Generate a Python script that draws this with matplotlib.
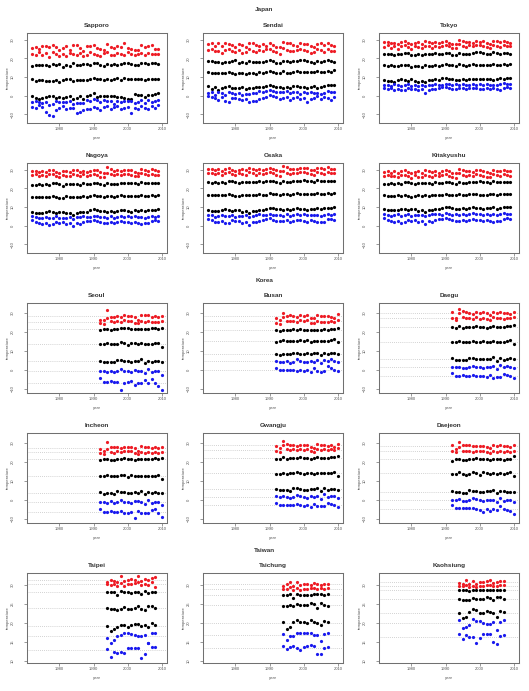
import numpy as np
import matplotlib.pyplot as plt

plt.rcParams['font.family'] = ['Liberation Sans', 'DejaVu Sans']

# years
japan_years = list(range(1972, 2010))
korea_years = list(range(1992, 2011))
taipei_years = list(range(1994, 2009))
taichung_years = list(range(1994, 2008))
kaohsiung_years = list(range(1994, 2008))

# ---- Japan ----
sapporo_r1 = [25.5, 26.2, 24.8, 26.5, 26.9, 26.3, 27.0, 26.0, 24.3, 25.8, 26.6, 24.5, 27.3, 27.2, 25.6, 24.0, 26.5, 26.8, 27.0, 25.8, 24.9, 24.5, 27.8, 25.9, 25.3, 26.4, 26.0, 28.0, 25.6, 25.1, 24.5, 24.7, 27.3, 26.2, 26.4, 27.0, 25.2, 24.9]
sapporo_r2 = [22.5, 22.0, 23.5, 21.8, 22.7, 21.0, 23.4, 22.1, 21.5, 22.3, 21.2, 23.0, 22.4, 21.7, 22.9, 21.3, 22.0, 23.3, 22.6, 21.8, 21.4, 22.7, 23.4, 22.0, 21.6, 23.0, 22.5, 21.9, 23.2, 22.4, 21.7, 22.3, 22.8, 21.9, 23.0, 22.5, 22.6, 22.1]
sapporo_k1 = [16.0, 16.5, 16.7, 16.3, 16.6, 16.1, 17.1, 16.4, 16.9, 15.5, 16.7, 15.8, 17.4, 16.5, 16.4, 16.9, 17.1, 16.2, 17.6, 17.5, 16.3, 15.9, 16.8, 16.5, 17.0, 16.3, 17.2, 17.4, 17.3, 16.8, 16.5, 16.6, 17.4, 17.3, 17.0, 17.6, 17.3, 17.0]
sapporo_k2 = [9.2, 8.0, 8.2, 8.3, 8.0, 7.9, 7.9, 8.5, 7.3, 8.4, 8.7, 8.8, 8.1, 8.6, 8.2, 8.5, 8.4, 8.9, 9.3, 9.0, 8.7, 8.5, 9.0, 8.2, 8.7, 9.6, 8.4, 9.3, 9.1, 8.9, 9.1, 9.2, 9.1, 8.5, 8.7, 8.9, 9.1, 9.2]
sapporo_k3 = [0.0, -1.0, -1.7, -1.3, -0.9, -0.4, -0.3, -1.1, -0.7, -1.4, -0.5, -0.3, -1.6, -1.2, -0.4, -1.5, -0.2, 0.6, 1.5, -0.5, -0.2, 0.0, -0.4, 0.0, -0.3, -0.8, -0.9, -1.3, -1.5, -1.7, 0.8, 0.3, 0.4, -0.6, 0.2, 0.5, 1.0, 1.2]
sapporo_b1 = [-3.5, -2.8, -3.6, -4.0, -3.3, -5.0, -4.2, -2.9, -3.5, -3.2, -3.6, -2.7, -4.4, -3.8, -4.1, -3.9, -2.3, -2.6, -2.0, -2.2, -3.1, -2.5, -2.7, -3.0, -4.4, -2.6, -3.6, -2.6, -3.0, -2.9, -4.0, -3.2, -2.5, -3.7, -2.5, -3.4, -2.8, -2.2]
sapporo_b2 = [-5.8, -6.5, -5.0, -6.2, -8.5, -10.2, -10.8, -7.5, -6.4, -5.7, -7.2, -6.8, -6.3, -9.0, -8.8, -7.5, -7.3, -6.9, -5.9, -6.6, -7.4, -6.0, -5.5, -7.1, -6.2, -5.3, -7.0, -6.4, -6.2, -9.2, -6.8, -7.3, -5.6, -6.4, -7.1, -5.4, -6.3, -5.1]

sendai_r1 = [27.8, 28.2, 26.9, 28.0, 26.5, 28.3, 27.9, 27.2, 26.0, 27.5, 27.0, 26.3, 28.1, 28.0, 27.0, 26.6, 27.6, 26.8, 28.2, 27.4, 26.1, 25.9, 28.6, 28.4, 28.1, 27.3, 26.9, 28.0, 27.8, 27.5, 26.8, 26.2, 27.9, 28.0, 27.1, 28.2, 27.0, 26.8]
sendai_r2 = [24.5, 25.0, 23.8, 24.2, 23.0, 24.6, 25.2, 24.0, 23.3, 24.4, 22.9, 23.6, 24.8, 24.1, 23.5, 24.3, 23.7, 24.9, 25.0, 24.0, 23.2, 22.5, 25.5, 24.6, 24.2, 23.9, 24.5, 25.1, 24.7, 23.8, 23.1, 23.6, 24.9, 24.3, 23.5, 24.8, 24.0, 23.7]
sendai_k1 = [18.6, 18.4, 17.9, 18.1, 17.6, 18.0, 18.3, 18.8, 19.0, 17.5, 18.2, 17.4, 18.5, 18.3, 18.1, 18.2, 18.0, 18.4, 19.1, 18.6, 17.8, 17.6, 18.7, 18.5, 18.2, 18.4, 18.8, 19.0, 19.3, 18.5, 18.1, 17.5, 18.6, 18.3, 18.4, 18.9, 18.5, 18.3]
sendai_k2 = [12.9, 12.3, 12.2, 12.4, 12.0, 12.3, 12.5, 12.1, 11.8, 12.4, 12.2, 11.6, 12.3, 12.1, 11.9, 12.6, 12.3, 12.5, 13.0, 12.8, 12.3, 12.1, 13.1, 12.4, 12.0, 12.9, 13.2, 12.9, 12.7, 12.6, 12.8, 12.5, 13.1, 12.7, 12.9, 13.2, 12.8, 13.6]
sendai_k3 = [5.0, 3.8, 4.5, 3.2, 4.0, 4.6, 5.1, 4.2, 3.9, 4.4, 4.7, 3.5, 3.9, 4.1, 4.8, 4.9, 4.7, 5.3, 5.8, 5.4, 4.9, 4.6, 4.4, 4.8, 4.2, 5.0, 5.1, 4.9, 4.5, 4.3, 4.8, 5.2, 4.0, 4.6, 5.3, 5.6, 5.6, 5.7]
sendai_b1 = [1.5, 1.8, 0.5, 1.9, 1.2, 0.6, 1.8, 1.6, 0.9, 1.3, 0.4, 1.1, 0.7, 1.2, 1.5, 2.4, 2.1, 2.3, 2.9, 2.5, 1.9, 2.1, 1.8, 2.6, 1.6, 1.8, 2.2, 1.0, 1.9, 1.4, 2.0, 1.5, 1.4, 1.0, 1.2, 2.3, 1.9, 2.2]
sendai_b2 = [-0.3, -0.8, -1.2, -2.5, -0.5, -3.0, -3.2, -1.0, -1.4, -2.0, -2.1, -1.5, -3.5, -3.0, -2.8, -1.7, -1.2, -0.5, 0.3, -0.4, -0.9, -1.6, -1.3, -0.8, -2.2, -1.0, -0.6, -1.9, -1.4, -3.3, -1.6, -1.2, -0.3, -2.0, -0.6, -1.4, -2.1, -0.5]

tokyo_r1 = [28.7, 28.9, 28.1, 28.5, 27.9, 28.8, 29.2, 28.0, 27.5, 28.4, 28.6, 27.9, 29.1, 28.8, 28.2, 28.6, 28.0, 28.9, 29.3, 28.5, 27.8, 27.6, 29.6, 29.4, 28.8, 28.9, 28.3, 29.4, 29.0, 29.2, 28.4, 27.8, 29.5, 29.2, 28.7, 29.4, 28.8, 28.5]
tokyo_r2 = [26.3, 27.0, 25.8, 26.6, 25.2, 26.9, 27.1, 26.2, 25.1, 26.5, 25.9, 25.6, 26.8, 26.4, 25.7, 26.9, 25.9, 26.7, 27.3, 26.4, 25.8, 25.4, 27.5, 26.8, 26.3, 27.0, 26.6, 27.2, 27.1, 26.5, 25.9, 25.6, 27.4, 26.9, 26.2, 27.1, 26.7, 26.8]
tokyo_k1 = [22.3, 22.2, 22.4, 22.0, 22.6, 22.5, 22.9, 23.1, 22.0, 21.8, 22.3, 21.9, 22.6, 22.4, 22.3, 22.7, 22.1, 22.5, 23.0, 22.8, 22.0, 21.8, 22.9, 22.6, 22.3, 22.5, 22.8, 23.2, 23.4, 22.7, 22.5, 22.2, 23.5, 22.9, 22.6, 23.0, 22.8, 22.6]
tokyo_k2 = [16.3, 16.0, 16.2, 15.9, 16.1, 16.6, 16.5, 16.2, 15.5, 15.8, 16.0, 15.6, 16.2, 16.0, 15.9, 16.4, 16.1, 16.3, 16.9, 16.5, 16.2, 16.0, 16.8, 16.4, 16.1, 16.6, 16.9, 16.7, 16.5, 16.3, 16.4, 16.6, 16.8, 16.2, 16.5, 17.0, 16.4, 16.8]
tokyo_k3 = [8.6, 8.0, 7.8, 7.5, 8.4, 8.9, 8.3, 7.9, 8.7, 8.1, 7.6, 7.9, 7.4, 8.2, 8.5, 8.8, 8.6, 9.3, 9.6, 9.0, 8.7, 8.5, 8.4, 8.8, 8.5, 9.0, 9.1, 8.9, 8.8, 8.7, 9.2, 8.9, 8.6, 8.8, 9.3, 9.1, 9.6, 9.4]
tokyo_b1 = [6.0, 5.6, 5.2, 6.1, 5.9, 5.3, 5.7, 6.3, 5.1, 5.8, 5.4, 5.6, 5.0, 5.8, 5.6, 6.2, 6.0, 5.9, 6.5, 6.2, 5.9, 6.1, 5.8, 6.4, 5.6, 6.0, 6.3, 5.9, 6.2, 5.7, 6.4, 6.0, 5.9, 5.7, 6.3, 6.6, 6.1, 6.4]
tokyo_b2 = [4.1, 3.6, 3.9, 3.2, 3.5, 3.0, 3.3, 4.0, 3.6, 3.8, 2.9, 3.4, 1.6, 3.1, 3.5, 3.7, 3.9, 4.5, 4.6, 4.2, 3.8, 3.6, 3.9, 4.3, 3.4, 4.0, 4.2, 4.1, 3.7, 3.5, 4.1, 3.8, 4.0, 3.6, 3.1, 4.4, 4.6, 4.3]

nagoya_r1 = [29.3, 29.5, 28.8, 29.4, 28.6, 29.6, 29.8, 28.9, 28.2, 29.2, 29.4, 28.7, 29.9, 29.7, 29.0, 29.3, 28.7, 29.5, 30.1, 29.6, 28.6, 28.3, 31.2, 30.6, 29.4, 29.7, 29.2, 30.0, 29.8, 29.9, 29.0, 28.5, 30.2, 29.8, 29.3, 30.4, 29.7, 29.4]
nagoya_r2 = [27.2, 27.6, 26.8, 27.3, 26.5, 27.5, 27.7, 26.9, 26.2, 27.4, 26.7, 26.4, 27.8, 27.1, 26.6, 27.5, 26.9, 27.4, 27.9, 27.2, 26.3, 26.1, 28.4, 27.6, 27.0, 27.5, 27.3, 27.9, 27.7, 27.1, 26.7, 26.5, 28.0, 27.6, 27.0, 27.9, 27.4, 27.2]
nagoya_k1 = [21.8, 21.7, 22.1, 21.9, 22.4, 21.7, 22.8, 22.7, 22.5, 21.4, 22.2, 22.1, 22.3, 22.2, 22.0, 22.8, 22.3, 22.4, 23.0, 22.9, 22.3, 21.7, 22.9, 22.4, 22.3, 22.6, 22.8, 22.9, 23.1, 22.7, 22.7, 22.4, 23.6, 23.1, 22.8, 23.0, 22.9, 22.8]
nagoya_k2 = [15.6, 15.3, 15.4, 15.3, 15.5, 15.2, 15.8, 15.4, 14.9, 15.1, 15.8, 15.5, 15.6, 15.4, 15.6, 15.8, 15.5, 15.7, 16.2, 15.9, 15.7, 15.4, 16.1, 15.8, 15.6, 16.0, 16.4, 16.0, 15.9, 15.8, 15.9, 16.0, 16.2, 15.9, 16.0, 16.4, 16.1, 16.3]
nagoya_k3 = [7.6, 6.8, 6.9, 7.0, 7.2, 7.9, 7.3, 6.8, 7.5, 7.4, 6.6, 7.0, 5.9, 6.9, 7.1, 7.6, 7.5, 8.3, 8.9, 8.5, 8.0, 7.7, 7.5, 8.0, 7.6, 8.1, 8.5, 8.2, 7.9, 7.5, 8.2, 8.0, 8.6, 7.8, 8.3, 8.4, 8.6, 8.8]
nagoya_b1 = [5.2, 4.7, 4.0, 4.4, 4.8, 4.1, 4.3, 5.1, 3.9, 4.4, 4.2, 4.6, 3.8, 4.5, 4.9, 5.2, 4.8, 4.7, 5.3, 5.0, 4.6, 4.8, 4.4, 5.1, 4.3, 4.7, 5.2, 4.9, 5.1, 4.5, 5.0, 4.6, 4.7, 4.4, 4.8, 5.4, 4.9, 5.1]
nagoya_b2 = [3.0, 2.2, 1.3, 1.0, 1.6, 0.5, 0.8, 2.2, 1.5, 2.0, 0.9, 1.2, -0.3, 1.4, 1.0, 1.8, 2.3, 2.8, 3.2, 2.5, 1.9, 1.6, 1.5, 2.1, 1.2, 2.0, 2.4, 2.2, 1.8, 1.3, 2.1, 1.7, 1.1, 1.4, 1.2, 2.6, 2.9, 2.3]

osaka_r1 = [30.2, 30.5, 29.8, 30.3, 29.5, 30.4, 30.8, 29.9, 29.2, 30.1, 30.3, 29.6, 30.8, 30.6, 30.0, 30.3, 29.7, 30.4, 31.0, 30.5, 29.6, 29.3, 31.8, 31.2, 30.4, 30.6, 30.2, 30.9, 30.8, 30.7, 30.0, 29.6, 31.1, 30.7, 30.3, 31.2, 30.6, 30.3]
osaka_r2 = [28.0, 28.4, 27.6, 28.1, 27.3, 28.3, 28.6, 27.8, 27.0, 28.2, 27.5, 27.2, 28.6, 28.0, 27.4, 28.3, 27.7, 28.2, 28.8, 28.0, 27.1, 26.9, 29.2, 28.5, 27.9, 28.4, 28.1, 28.7, 28.6, 28.0, 27.5, 27.3, 28.8, 28.4, 27.8, 28.7, 28.2, 28.0]
osaka_k1 = [23.2, 23.0, 23.4, 23.1, 23.6, 23.0, 24.0, 23.8, 23.6, 22.8, 23.4, 23.3, 23.5, 23.4, 23.2, 23.9, 23.5, 23.7, 24.2, 24.0, 23.5, 23.0, 24.1, 23.6, 23.5, 23.8, 24.0, 24.1, 24.3, 23.9, 23.9, 23.6, 24.6, 24.2, 24.0, 24.2, 24.1, 24.0]
osaka_k2 = [16.6, 16.3, 16.4, 16.2, 16.5, 16.3, 16.8, 16.4, 15.9, 16.1, 16.7, 16.4, 16.5, 16.3, 16.5, 16.8, 16.5, 16.7, 17.3, 17.0, 16.8, 16.5, 17.2, 16.9, 16.7, 17.1, 17.5, 17.1, 17.0, 16.9, 17.0, 17.1, 17.3, 17.0, 17.1, 17.5, 17.2, 17.4]
osaka_k3 = [8.5, 7.8, 7.9, 8.0, 8.2, 8.8, 8.3, 7.8, 8.4, 8.3, 7.6, 8.0, 6.9, 7.9, 8.1, 8.6, 8.5, 9.2, 9.7, 9.4, 9.0, 8.7, 8.5, 9.0, 8.6, 9.1, 9.5, 9.2, 8.9, 8.5, 9.2, 9.0, 9.6, 8.8, 9.3, 9.4, 9.6, 9.8]
osaka_b1 = [6.0, 5.5, 4.9, 5.3, 5.7, 5.0, 5.2, 6.0, 4.8, 5.3, 5.1, 5.5, 4.6, 5.4, 5.8, 6.1, 5.7, 5.6, 6.3, 6.0, 5.6, 5.8, 5.4, 6.1, 5.3, 5.7, 6.2, 5.9, 6.1, 5.5, 6.0, 5.6, 5.7, 5.4, 5.8, 6.4, 5.9, 6.1]
osaka_b2 = [3.6, 2.9, 2.1, 1.8, 2.4, 1.3, 1.6, 3.0, 2.3, 2.8, 1.7, 2.0, 0.6, 2.2, 1.8, 2.6, 3.1, 3.5, 3.9, 3.2, 2.7, 2.4, 2.3, 2.9, 2.0, 2.8, 3.2, 3.0, 2.6, 2.1, 2.9, 2.5, 1.9, 2.2, 2.0, 3.4, 3.7, 3.1]

kitakyushu_r1 = [29.0, 29.3, 28.5, 29.1, 28.3, 29.2, 29.6, 28.7, 28.0, 28.9, 29.1, 28.4, 29.6, 29.4, 28.8, 29.1, 28.5, 29.2, 29.8, 29.3, 28.4, 28.1, 30.6, 30.0, 29.2, 29.4, 29.0, 29.7, 29.6, 29.5, 28.8, 28.4, 29.9, 29.5, 29.1, 30.0, 29.4, 29.1]
kitakyushu_r2 = [26.8, 27.2, 26.4, 26.9, 26.1, 27.1, 27.4, 26.6, 25.8, 27.0, 26.3, 26.0, 27.4, 26.8, 26.2, 27.1, 26.5, 27.0, 27.6, 26.8, 25.9, 25.7, 28.0, 27.3, 26.7, 27.2, 26.9, 27.5, 27.4, 26.8, 26.3, 26.1, 27.6, 27.2, 26.6, 27.5, 27.0, 26.8]
kitakyushu_k1 = [22.6, 22.4, 22.8, 22.5, 23.0, 22.4, 23.4, 23.2, 23.0, 22.2, 22.8, 22.7, 22.9, 22.8, 22.6, 23.3, 22.9, 23.1, 23.6, 23.4, 22.9, 22.4, 23.5, 23.0, 22.9, 23.2, 23.4, 23.5, 23.7, 23.3, 23.3, 23.0, 24.0, 23.6, 23.4, 23.6, 23.5, 23.4]
kitakyushu_k2 = [16.3, 16.0, 16.1, 15.9, 16.2, 16.0, 16.5, 16.1, 15.6, 15.8, 16.4, 16.1, 16.2, 16.0, 16.2, 16.5, 16.2, 16.4, 17.0, 16.7, 16.5, 16.2, 16.9, 16.6, 16.4, 16.8, 17.2, 16.8, 16.7, 16.6, 16.7, 16.8, 17.0, 16.7, 16.8, 17.2, 16.9, 17.1]
kitakyushu_k3 = [8.9, 8.2, 8.3, 8.4, 8.6, 9.2, 8.7, 8.2, 8.8, 8.7, 8.0, 8.4, 7.3, 8.3, 8.5, 9.0, 8.9, 9.6, 10.1, 9.8, 9.4, 9.1, 8.9, 9.4, 9.0, 9.5, 9.9, 9.6, 9.3, 8.9, 9.6, 9.4, 10.0, 9.2, 9.7, 9.8, 10.0, 10.2]
kitakyushu_b1 = [6.4, 5.9, 5.3, 5.7, 6.1, 5.4, 5.6, 6.4, 5.2, 5.7, 5.5, 5.9, 5.0, 5.8, 6.2, 6.5, 6.1, 6.0, 6.7, 6.4, 6.0, 6.2, 5.8, 6.5, 5.7, 6.1, 6.6, 6.3, 6.5, 5.9, 6.4, 6.0, 6.1, 5.8, 6.2, 6.8, 6.3, 6.5]
kitakyushu_b2 = [3.9, 3.2, 2.4, 2.1, 2.7, 1.6, 1.9, 3.3, 2.6, 3.1, 2.0, 2.3, 0.9, 2.5, 2.1, 2.9, 3.4, 3.8, 4.2, 3.5, 3.0, 2.7, 2.6, 3.2, 2.3, 3.1, 3.5, 3.3, 2.9, 2.4, 3.2, 2.8, 2.2, 2.5, 2.3, 3.7, 4.0, 3.4]

# ---- Korea ----
seoul_r1 = [26.3, 26.0, 31.4, 27.5, 27.9, 28.4, 27.6, 28.5, 28.2, 28.3, 27.4, 25.9, 28.8, 28.6, 28.5, 27.8, 28.0, 27.6, 28.3]
seoul_r2 = [24.6, 24.2, 27.1, 25.3, 24.8, 25.6, 25.1, 25.9, 25.6, 25.7, 24.6, 24.4, 25.4, 25.0, 25.3, 24.9, 25.1, 24.9, 25.5]
seoul_k1 = [21.0, 21.4, 21.3, 21.0, 21.2, 21.6, 21.7, 21.9, 21.8, 21.5, 21.2, 21.3, 21.6, 21.5, 21.4, 21.7, 21.9, 21.4, 22.1]
seoul_k2 = [13.5, 13.4, 14.2, 13.7, 13.6, 13.7, 14.3, 14.0, 13.2, 14.2, 13.9, 13.6, 13.8, 13.5, 13.7, 13.4, 13.8, 14.1, 12.0]
seoul_k3 = [4.7, 3.9, 4.2, 4.0, 3.9, 5.2, 5.0, 4.8, 4.4, 4.2, 4.5, 4.4, 5.5, 3.7, 4.7, 4.3, 4.5, 4.4, 4.1]
seoul_b1 = [-0.7, -0.5, -1.0, -0.4, -1.3, -0.9, 0.2, -0.5, -0.7, -1.3, -0.2, -0.4, -0.5, -1.5, 0.5, -1.3, -0.7, -0.6, -2.6]
seoul_b2 = [-4.5, -6.2, -6.4, -6.0, -6.2, -6.3, -10.7, -6.9, -6.6, -5.7, -7.8, -7.0, -7.2, -5.3, -6.8, -4.9, -7.0, -8.3, -10.4]

busan_r1 = [27.2, 26.2, 29.6, 28.4, 28.5, 28.0, 27.9, 28.7, 28.1, 28.6, 27.0, 26.9, 28.9, 28.2, 28.4, 28.0, 27.8, 27.3, 29.1]
busan_r2 = [24.5, 24.0, 27.4, 25.3, 25.4, 25.6, 25.2, 26.1, 25.8, 25.9, 24.6, 24.3, 25.5, 25.1, 25.2, 24.9, 25.3, 24.8, 26.0]
busan_k1 = [20.8, 20.5, 21.0, 20.8, 21.0, 21.2, 21.1, 21.4, 21.0, 21.0, 20.8, 20.9, 21.1, 21.0, 21.2, 21.1, 21.6, 21.3, 21.7]
busan_k2 = [14.8, 14.9, 15.5, 15.1, 15.2, 15.0, 15.3, 15.8, 15.1, 15.4, 14.6, 15.2, 15.3, 15.0, 15.1, 15.0, 15.4, 16.2, 14.3]
busan_k3 = [8.4, 7.9, 8.3, 8.2, 8.1, 8.8, 8.7, 8.5, 8.2, 8.6, 8.1, 8.9, 9.0, 7.8, 8.8, 8.4, 8.6, 8.7, 8.3]
busan_b1 = [4.6, 4.2, 4.1, 4.4, 3.6, 4.3, 5.4, 4.6, 4.2, 4.1, 4.5, 4.3, 5.1, 3.5, 5.2, 4.4, 5.4, 4.7, 3.9]
busan_b2 = [1.0, -0.2, -0.1, 0.0, -0.3, -0.2, -0.4, 0.1, -0.7, -0.2, -1.2, 0.8, -0.8, -1.3, -0.9, 2.0, 0.7, -0.3, -0.8]

daegu_r1 = [30.2, 27.2, 32.0, 30.8, 30.3, 30.0, 29.4, 30.1, 29.7, 30.2, 29.5, 28.6, 30.4, 30.0, 30.5, 29.8, 29.9, 29.1, 30.1]
daegu_r2 = [27.0, 26.0, 29.5, 27.6, 27.3, 27.1, 26.7, 27.4, 26.8, 27.3, 26.4, 26.2, 27.6, 26.9, 27.2, 26.7, 27.3, 27.0, 27.8]
daegu_k1 = [22.2, 21.8, 22.9, 22.0, 22.3, 22.6, 22.5, 22.7, 22.4, 22.6, 22.0, 22.3, 22.8, 22.6, 22.5, 22.4, 22.9, 23.0, 23.7]
daegu_k2 = [14.4, 14.5, 14.9, 14.4, 14.6, 14.7, 15.2, 14.8, 14.3, 14.9, 14.6, 14.3, 15.0, 14.7, 14.8, 14.6, 14.9, 15.4, 13.4]
daegu_k3 = [5.9, 5.0, 5.2, 5.3, 5.0, 6.2, 6.1, 5.8, 5.5, 5.6, 5.7, 5.6, 6.6, 4.7, 6.1, 5.3, 5.8, 5.9, 5.6]
daegu_b1 = [1.3, 1.4, 1.6, 0.9, 0.8, 1.3, 2.2, 1.6, 1.2, 0.8, 1.4, 1.3, 1.8, 0.2, 2.5, 1.3, 1.8, 1.6, 0.7]
daegu_b2 = [-1.8, -3.3, -3.2, -3.0, -3.1, -3.3, -3.0, -3.4, -3.5, -3.2, -4.0, -2.6, -4.2, -3.9, -3.7, -2.0, -2.6, -3.2, -4.2]

incheon_r1 = [26.5, 25.6, 30.1, 27.4, 27.6, 27.8, 27.0, 27.9, 27.6, 27.8, 26.9, 25.5, 28.1, 27.8, 27.6, 27.1, 27.4, 26.9, 27.6]
incheon_r2 = [24.3, 23.8, 26.8, 25.0, 24.6, 25.3, 24.8, 25.5, 25.3, 25.4, 24.3, 23.9, 25.1, 24.7, 25.0, 24.6, 24.8, 24.6, 25.2]
incheon_k1 = [20.9, 21.2, 21.4, 21.0, 21.1, 21.5, 21.6, 21.8, 21.6, 21.4, 21.1, 21.2, 21.5, 21.4, 21.3, 21.6, 21.8, 21.3, 21.9]
incheon_k2 = [12.3, 12.2, 13.0, 12.5, 12.4, 12.5, 13.1, 12.8, 12.0, 12.9, 12.7, 12.4, 12.6, 12.3, 12.5, 12.2, 12.6, 12.9, 11.0]
incheon_k3 = [3.9, 3.2, 3.5, 3.3, 3.1, 4.4, 4.3, 4.0, 3.6, 3.5, 3.8, 3.6, 4.7, 2.9, 4.0, 3.5, 3.8, 3.7, 3.3]
incheon_b1 = [-1.2, -1.0, -1.5, -0.9, -1.8, -1.4, -0.4, -1.0, -1.3, -1.8, -0.8, -0.9, -1.1, -2.1, 0.0, -1.7, -1.2, -1.1, -3.0]
incheon_b2 = [-4.8, -6.3, -6.4, -6.0, -6.2, -6.4, -6.1, -6.8, -7.2, -6.6, -9.8, -5.9, -7.2, -7.0, -7.2, -5.4, -5.0, -7.0, -9.0]

gwangju_r1 = [28.0, 27.0, 30.8, 29.0, 28.9, 28.6, 28.1, 28.9, 28.5, 28.9, 27.8, 27.3, 29.1, 28.6, 28.8, 28.3, 28.5, 27.9, 29.0]
gwangju_r2 = [25.8, 25.1, 28.6, 26.5, 26.3, 26.4, 26.0, 26.7, 26.2, 26.6, 25.6, 25.2, 26.7, 26.1, 26.4, 26.0, 26.5, 26.1, 26.9]
gwangju_k1 = [21.6, 21.4, 22.3, 21.6, 21.8, 22.1, 21.9, 22.2, 21.9, 22.0, 21.5, 21.8, 22.2, 22.0, 21.9, 21.8, 22.3, 22.2, 22.8]
gwangju_k2 = [13.6, 13.7, 14.2, 13.7, 13.8, 13.9, 14.4, 14.1, 13.5, 14.2, 13.9, 13.6, 14.2, 13.9, 14.0, 13.8, 14.1, 14.6, 12.7]
gwangju_k3 = [5.6, 4.9, 5.1, 5.2, 4.8, 6.0, 5.9, 5.6, 5.3, 5.3, 5.5, 5.4, 6.4, 4.5, 5.9, 5.1, 5.6, 5.7, 5.3]
gwangju_b1 = [1.8, 1.6, 1.9, 1.3, 1.0, 1.5, 2.6, 1.9, 1.5, 1.1, 1.8, 1.6, 2.1, 0.5, 2.8, 1.6, 2.1, 1.9, 0.9]
gwangju_b2 = [-1.5, -3.0, -2.7, -2.5, -2.6, -2.8, -2.4, -2.9, -3.2, -2.8, -3.6, -2.0, -3.4, -3.5, -3.2, -1.6, -2.0, -2.7, -3.8]

daejeon_r1 = [28.5, 26.5, 30.3, 28.7, 28.9, 28.6, 28.0, 28.3, 28.1, 28.4, 27.6, 27.2, 28.7, 28.4, 28.6, 28.0, 28.1, 27.5, 28.6]
daejeon_r2 = [25.4, 25.1, 27.8, 25.6, 25.5, 25.5, 25.2, 25.6, 25.3, 25.6, 25.0, 24.7, 25.5, 25.2, 25.4, 25.1, 25.4, 25.0, 25.6]
daejeon_k1 = [20.4, 21.2, 21.4, 21.1, 21.0, 21.5, 21.4, 21.8, 21.5, 21.3, 21.2, 21.1, 21.6, 21.5, 21.3, 21.1, 21.6, 21.2, 22.7]
daejeon_k2 = [13.6, 13.7, 14.6, 13.4, 13.0, 13.5, 14.5, 13.9, 13.2, 14.3, 14.1, 13.6, 14.2, 13.6, 13.8, 13.6, 14.0, 14.6, 12.4]
daejeon_k3 = [4.6, 4.0, 4.2, 3.6, 3.5, 5.0, 4.8, 4.4, 3.9, 3.8, 4.6, 4.5, 5.3, 3.3, 4.4, 4.5, 4.0, 4.3, 4.2]
daejeon_b1 = [0.0, -0.3, 0.2, -0.6, -0.9, -0.4, 0.8, 0.2, -0.2, -0.7, -0.1, 0.0, 0.1, -1.0, 1.0, -0.8, -0.4, -0.3, -1.4]
daejeon_b2 = [-2.5, -4.2, -4.4, -4.4, -4.5, -4.5, -4.2, -5.0, -5.3, -6.6, -4.7, -5.9, -4.8, -5.4, -3.5, -4.6, -5.6, -6.0, -7.4]

# ---- Taiwan ----
taipei_r1 = [30.8, 31.2, 31.1, 30.8, 32.2, 30.9, 31.3, 31.4, 31.2, 32.3, 31.0, 31.4, 31.2, 31.9, 32.1]
taipei_r2 = [30.1, 29.9, 30.3, 29.6, 30.4, 29.8, 30.3, 30.2, 30.4, 30.6, 29.9, 30.3, 30.0, 30.6, 29.4]
taipei_k1 = [28.2, 28.0, 28.1, 27.2, 28.3, 28.0, 28.1, 27.9, 28.2, 28.0, 27.6, 28.4, 27.9, 28.2, 28.1]
taipei_k2 = [23.9, 23.6, 23.5, 23.4, 23.5, 24.2, 23.5, 23.6, 23.9, 24.3, 23.7, 23.4, 24.5, 24.3, 23.9]
taipei_k3 = [19.2, 17.8, 18.3, 19.0, 19.5, 19.3, 19.0, 19.4, 19.6, 19.7, 19.2, 19.4, 19.0, 19.9, 19.5]
taipei_b1 = [16.0, 14.6, 15.5, 16.6, 16.9, 17.3, 17.2, 17.1, 16.9, 16.6, 16.4, 16.8, 14.6, 17.3, 17.3]
taipei_b2 = [13.1, 11.1, 12.4, 12.1, 12.4, 12.0, 13.3, 13.4, 13.4, 13.3, 10.8, 11.7, 14.6, 13.6, 13.6]

taichung_r1 = [29.8, 30.3, 30.8, 29.8, 30.8, 29.9, 30.1, 30.2, 30.0, 30.5, 30.2, 30.0, 30.3, 30.3]
taichung_r2 = [28.9, 29.0, 29.3, 28.6, 29.1, 28.7, 28.8, 29.0, 29.2, 29.1, 28.9, 29.1, 28.9, 29.2]
taichung_k1 = [27.3, 27.4, 27.6, 26.5, 27.7, 27.4, 27.3, 27.3, 27.4, 27.6, 27.5, 27.5, 27.4, 27.6]
taichung_k2 = [24.5, 24.3, 24.6, 24.4, 24.9, 24.7, 24.6, 24.8, 25.1, 25.0, 23.9, 25.1, 24.7, 24.5]
taichung_k3 = [20.2, 18.3, 18.8, 20.2, 20.8, 20.1, 20.1, 19.9, 20.6, 20.2, 19.9, 19.5, 20.4, 20.2]
taichung_b1 = [17.0, 15.4, 16.4, 16.6, 17.4, 17.4, 17.2, 17.3, 17.2, 16.8, 16.9, 15.3, 17.0, 17.4]
taichung_b2 = [14.0, 13.0, 13.6, 13.8, 13.4, 12.9, 13.6, 13.8, 14.2, 14.0, 11.8, 11.8, 13.4, 13.6]

kaohsiung_r1 = [30.4, 30.3, 31.3, 30.1, 30.9, 30.3, 30.6, 30.8, 30.9, 31.2, 30.5, 30.7, 31.0, 31.0]
kaohsiung_r2 = [29.7, 29.8, 29.9, 29.5, 29.7, 29.5, 29.7, 29.8, 29.9, 30.0, 29.8, 29.6, 30.0, 30.0]
kaohsiung_k1 = [28.7, 28.6, 28.6, 28.3, 28.7, 28.5, 28.6, 28.6, 28.7, 28.7, 28.7, 28.6, 28.6, 28.6]
kaohsiung_k2 = [26.2, 26.0, 25.9, 26.1, 26.4, 26.2, 26.2, 26.3, 26.7, 26.4, 26.0, 26.8, 26.7, 26.3]
kaohsiung_k3 = [22.5, 21.3, 21.5, 22.9, 23.6, 23.3, 22.5, 22.5, 23.1, 22.7, 22.5, 21.6, 23.2, 22.9]
kaohsiung_b1 = [20.6, 18.6, 18.8, 19.3, 20.9, 20.4, 20.4, 20.0, 19.8, 19.6, 20.1, 18.0, 20.2, 20.6]
kaohsiung_b2 = [17.1, 15.7, 16.7, 16.2, 16.2, 14.6, 15.9, 17.0, 17.1, 17.1, 14.9, 14.4, 16.4, 16.9]

series_colors = ['#ee1c25', '#ee1c25', 'black', 'black', 'black', '#1a1aee', '#1a1aee']

# (name, years, series)
panels = [
    ('Sapporo', japan_years, [sapporo_r1, sapporo_r2, sapporo_k1, sapporo_k2, sapporo_k3, sapporo_b1, sapporo_b2]),
    ('Sendai', japan_years, [sendai_r1, sendai_r2, sendai_k1, sendai_k2, sendai_k3, sendai_b1, sendai_b2]),
    ('Tokyo', japan_years, [tokyo_r1, tokyo_r2, tokyo_k1, tokyo_k2, tokyo_k3, tokyo_b1, tokyo_b2]),
    ('Nagoya', japan_years, [nagoya_r1, nagoya_r2, nagoya_k1, nagoya_k2, nagoya_k3, nagoya_b1, nagoya_b2]),
    ('Osaka', japan_years, [osaka_r1, osaka_r2, osaka_k1, osaka_k2, osaka_k3, osaka_b1, osaka_b2]),
    ('Kitakyushu', japan_years, [kitakyushu_r1, kitakyushu_r2, kitakyushu_k1, kitakyushu_k2, kitakyushu_k3, kitakyushu_b1, kitakyushu_b2]),
    ('Seoul', korea_years, [seoul_r1, seoul_r2, seoul_k1, seoul_k2, seoul_k3, seoul_b1, seoul_b2]),
    ('Busan', korea_years, [busan_r1, busan_r2, busan_k1, busan_k2, busan_k3, busan_b1, busan_b2]),
    ('Daegu', korea_years, [daegu_r1, daegu_r2, daegu_k1, daegu_k2, daegu_k3, daegu_b1, daegu_b2]),
    ('Incheon', korea_years, [incheon_r1, incheon_r2, incheon_k1, incheon_k2, incheon_k3, incheon_b1, incheon_b2]),
    ('Gwangju', korea_years, [gwangju_r1, gwangju_r2, gwangju_k1, gwangju_k2, gwangju_k3, gwangju_b1, gwangju_b2]),
    ('Daejeon', korea_years, [daejeon_r1, daejeon_r2, daejeon_k1, daejeon_k2, daejeon_k3, daejeon_b1, daejeon_b2]),
    ('Taipei', taipei_years, [taipei_r1, taipei_r2, taipei_k1, taipei_k2, taipei_k3, taipei_b1, taipei_b2]),
    ('Taichung', taichung_years, [taichung_r1, taichung_r2, taichung_k1, taichung_k2, taichung_k3, taichung_b1, taichung_b2]),
    ('Kaohsiung', kaohsiung_years, [kaohsiung_r1, kaohsiung_r2, kaohsiung_k1, kaohsiung_k2, kaohsiung_k3, kaohsiung_b1, kaohsiung_b2]),
]

sections = [('Japan', 10), ('Korea', 281), ('Taiwan', 551)]

# layout in pixels
W, H = 529, 691
row_top = [33, 163, 303, 433, 573]
row_h = 90
col_left = [27, 203, 379]
col_w = 140

fig = plt.figure(figsize=(W / 100, H / 100), dpi=100)


def px_axes(left, top, width, height):
    return fig.add_axes([left / W, 1 - (top + height) / H, width / W, height / H])


for name, y in sections:
    fig.text(264.5 / W, 1 - y / H, name, ha='center', va='center',
             fontsize=4.6, fontweight='bold', color='#333333')

for i, (name, years, series) in enumerate(panels):
    r, c = divmod(i, 3)
    ax = px_axes(col_left[c], row_top[r], col_w, row_h)

    if r >= 2:
        # dotted reference lines at each series' mean
        for s in series:
            ax.axhline(np.mean(s), color='#c4c4c4', lw=0.6, ls=(0, (1, 1.5)), zorder=0)

    for s, col in zip(series, series_colors):
        ax.plot(years, s, 'o', color=col, ms=2.3, mew=0, zorder=2)

    ax.set_xlim(1970.5, 2011.5)
    ax.set_xticks([1980, 1990, 2000, 2010])
    if r < 2:
        ax.set_ylim(-14.6, 33.6)
        ax.set_yticks([-10, 0, 10, 20, 30])
    elif r < 4:
        ax.set_ylim(-12.2, 35.0)
        ax.set_yticks([-10, 0, 10, 20, 30])
    else:
        ax.set_ylim(9.4, 33.1)
        ax.set_yticks([10, 15, 20, 25, 30])

    for sp in ax.spines.values():
        sp.set_color('#707070')
        sp.set_linewidth(0.75)
    ax.tick_params(axis='both', length=2, width=0.5, color='#707070',
                   labelsize=3.0, labelcolor='#555555')
    ax.tick_params(axis='x', pad=1.2)
    ax.tick_params(axis='y', pad=7.0)
    for lab in ax.get_yticklabels():
        lab.set_rotation(90)
        lab.set_va('center')

    ax.set_title(name, fontsize=4.6, fontweight='bold', color='#333333', pad=4)
    ax.set_xlabel('year', fontsize=3.0, color='#555555', labelpad=3)
    ax.set_ylabel('temperature', fontsize=3.1, color='#555555', labelpad=0.5)

fig.savefig('out.png', dpi=100, facecolor='white')
